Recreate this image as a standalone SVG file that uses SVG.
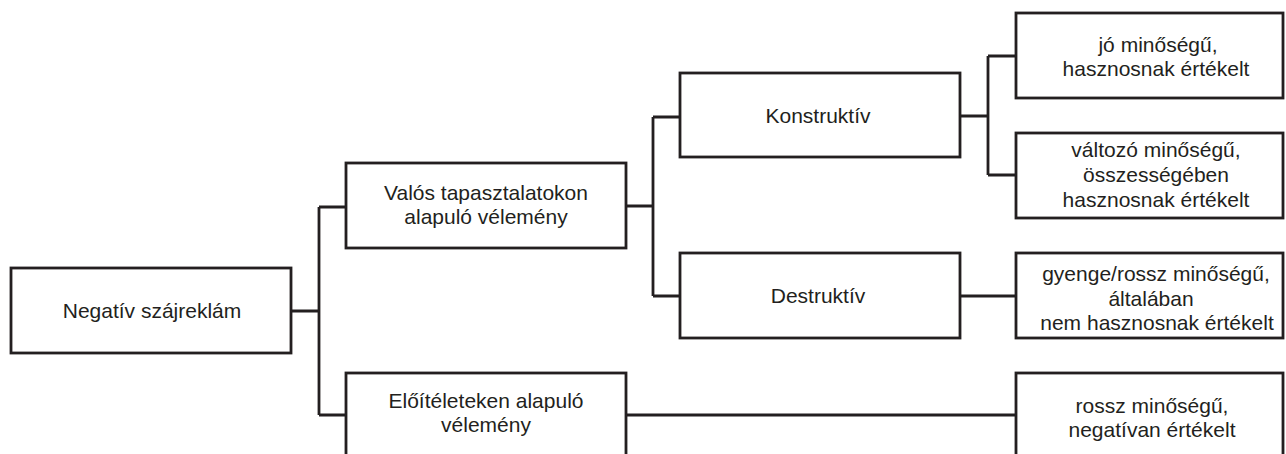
<svg xmlns="http://www.w3.org/2000/svg" width="1286" height="454" viewBox="0 0 1286 454">
<style>
.box{fill:#fff;stroke:#231f20;stroke-width:2.8}
.ln{fill:none;stroke:#231f20;stroke-width:2.8}
text{font-family:"Liberation Sans",Arial,sans-serif;font-size:21px;fill:#231f20;text-anchor:middle}
</style>
<rect width="1286" height="454" fill="#fff"/>
<g id="connectors">
<path class="ln" d="M291 311H319M319 207V415M319 207H346M319 415H346"/>
<path class="ln" d="M626 206H653M653 117V296M653 117H680M653 296H680"/>
<path class="ln" d="M960 116H988M988 56V175M988 56H1016M988 175H1016"/>
<path class="ln" d="M960 296H1016"/>
<path class="ln" d="M626 415H1016"/>
</g>
<g id="n-negativ"><rect class="box" x="11" y="268" width="280" height="85"/><text x="152" y="318">Negatív szájreklám</text></g>
<g id="n-valos"><rect class="box" x="346" y="163" width="280" height="85"/><text x="486" y="200">Valós tapasztalatokon</text><text x="486" y="224">alapuló vélemény</text></g>
<g id="n-eloitelet"><rect class="box" x="346" y="373" width="280" height="100"/><text x="486" y="408">Előítéleteken alapuló</text><text x="486" y="432">vélemény</text></g>
<g id="n-konstruktiv"><rect class="box" x="680" y="73" width="280" height="84"/><text x="818" y="123">Konstruktív</text></g>
<g id="n-destruktiv"><rect class="box" x="680" y="253" width="280" height="85"/><text x="818" y="303">Destruktív</text></g>
<g id="n-jo"><rect class="box" x="1016" y="13" width="267" height="85"/><text x="1158" y="52">jó minőségű,</text><text x="1156" y="76">hasznosnak értékelt</text></g>
<g id="n-valtozo"><rect class="box" x="1016" y="133" width="267" height="85"/><text x="1156" y="157">változó minőségű,</text><text x="1156" y="182">összességében</text><text x="1156" y="207">hasznosnak értékelt</text></g>
<g id="n-gyenge"><rect class="box" x="1016" y="253" width="267" height="85"/><text x="1156" y="281">gyenge/rossz minőségű,</text><text x="1151" y="306">általában</text><text x="1157" y="330">nem hasznosnak értékelt</text></g>
<g id="n-rossz"><rect class="box" x="1016" y="373" width="267" height="100"/><text x="1152" y="413">rossz minőségű,</text><text x="1152" y="437">negatívan értékelt</text></g>
</svg>
